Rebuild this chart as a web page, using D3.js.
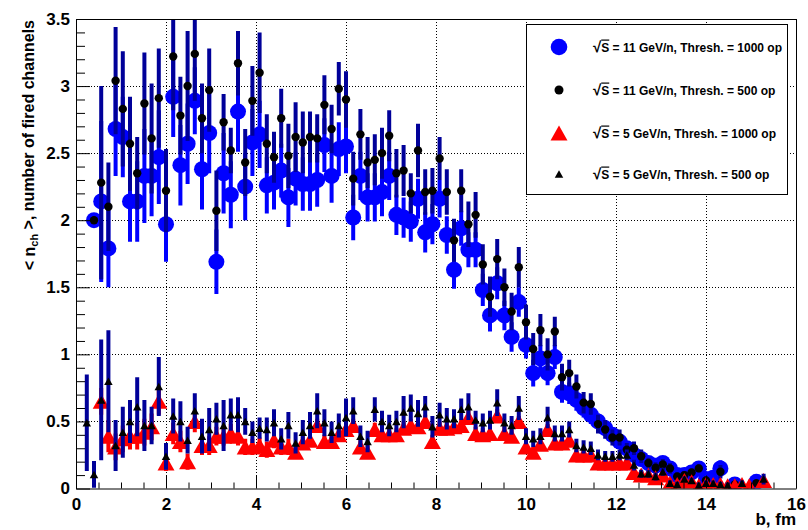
<!DOCTYPE html>
<html>
<head>
<meta charset="utf-8">
<script src="https://cdn.jsdelivr.net/npm/d3@7"></script>
<style>
  body { margin: 0; background: #fff; }
  svg { display: block; }
  text { font-family: "Liberation Sans", Arial, sans-serif; font-weight: bold; }
</style>
</head>
<body>
<svg id="chart" width="808" height="530"></svg>
<script>
// histogram bins of 0.16 fm, first listed bin is #1 (centre 0.24 fm)
const binWidth = 0.16
const firstBin = 1

// sqrt(S) = 11 GeV/n, threshold 1000 op (blue circles)
const s11t1000 = [
  null, 2.00, 2.14, 1.79, 2.68, 2.62, 2.14, 2.14, 2.33, 2.33,
  2.47, 1.97, 2.92, 2.41, 2.57, 2.89, 2.38, 2.65, 1.69, 2.35,
  2.19, 2.81, 2.25, 2.58, 2.64, 2.26, 2.28, 2.37, 2.17, 2.31,
  2.27, 2.27, 2.30, 2.56, 2.33, 2.53, 2.55, 2.02, 2.33, 2.17,
  2.17, 2.21, 2.33, 2.04, 2.02, 1.99, 2.16, 1.91, 1.97, 2.16,
  1.89, 1.63, 1.94, 1.78, 1.78, 1.48, 1.29, 1.53, 1.29, 1.13,
  1.39, 1.07, 0.86, 0.97, 0.86, 0.98, 0.72, 0.71, 0.66, 0.60,
  0.55, 0.50, 0.45, 0.40, 0.35, 0.30, 0.25, 0.22, 0.19, 0.17,
  0.19, 0.15, 0.10, 0.10, 0.12, 0.15, 0.07, 0.08, 0.15, null,
  0.03, null, null, 0.05, null
]
const s11t1000Err = [
  0, 0, 0.60, 0.29, 0.35, 0.30, 0.30, 0.30, 0.35, 0.30,
  0.35, 0.28, 0.30, 0.30, 0.30, 0.25, 0.30, 0.30, 0.24, 0.30,
  0.25, 0.30, 0.25, 0.25, 0.25, 0.21, 0.20, 0.20, 0.22, 0.20,
  0.20, 0.20, 0.20, 0.20, 0.20, 0.20, 0.20, 0.17, 0.18, 0.18,
  0.18, 0.18, 0.18, 0.15, 0.15, 0.15, 0.15, 0.15, 0.15, 0.14,
  0.14, 0.14, 0.13, 0.13, 0.13, 0.12, 0.12, 0.12, 0.11, 0.11,
  0.11, 0.10, 0.10, 0.10, 0.09, 0.09, 0.08, 0.08, 0.08, 0.07,
  0.07, 0.06, 0.06, 0.05, 0.05, 0.05, 0.05, 0.04, 0.04, 0.04,
  0.04, 0.04, 0.03, 0.03, 0.03, 0.03, 0.03, 0.03, 0.06, 0,
  0.02, 0, 0, 0.02, 0
]

// sqrt(S) = 11 GeV/n, threshold 500 op (small black circles)
const s11t500 = [
  null, 2.00, 2.28, 2.10, 3.04, 2.83, 2.57, 2.35, 2.87, 2.61,
  2.91, 2.22, 3.22, 2.78, 3.00, 3.24, 2.76, 2.97, 2.07, 2.73,
  2.52, 3.17, 2.43, 2.89, 3.10, 2.57, 2.47, 2.76, 2.48, 2.62,
  2.58, 2.62, 2.61, 2.86, 2.68, 2.98, 2.90, 2.31, 2.64, 2.43,
  2.45, 2.50, 2.63, 2.35, 2.37, 2.20, 2.52, 2.21, 2.22, 2.46,
  2.21, 1.85, 2.22, 1.97, 2.04, 1.67, 1.43, 1.71, 1.50, 1.32,
  1.65, 1.24, 1.04, 1.18, 1.00, 1.17, 0.83, 0.86, 0.76, 0.64,
  0.63, 0.48, 0.44, 0.38, 0.38, 0.29, 0.30, 0.24, 0.19, 0.155,
  0.18, 0.15, 0.09, 0.10, 0.12, 0.15, 0.06, null, 0.125, null,
  0.03, null, null, 0.04, null
]
const s11t500Err = [
  0, 0, 0.72, 0.33, 0.40, 0.43, 0.35, 0.27, 0.38, 0.41,
  0.37, 0.31, 0.40, 0.29, 0.41, 0.35, 0.26, 0.31, 0.30, 0.21,
  0.17, 0.24, 0.25, 0.26, 0.30, 0.22, 0.19, 0.22, 0.24, 0.26,
  0.23, 0.19, 0.18, 0.22, 0.18, 0.20, 0.21, 0.20, 0.19, 0.19,
  0.19, 0.19, 0.19, 0.18, 0.19, 0.15, 0.20, 0.17, 0.17, 0.16,
  0.17, 0.16, 0.16, 0.17, 0.17, 0.15, 0.15, 0.15, 0.14, 0.14,
  0.15, 0.13, 0.12, 0.12, 0.12, 0.11, 0.10, 0.10, 0.09, 0.08,
  0.08, 0.07, 0.07, 0.06, 0.06, 0.05, 0.05, 0.05, 0.04, 0.04,
  0.04, 0.04, 0.03, 0.03, 0.03, 0.03, 0.03, 0, 0.05, 0,
  0.02, 0, 0, 0.02, 0
]

// sqrt(S) = 5 GeV/n, threshold 1000 op (red triangles)
const s5t1000 = [
  null, null, 0.65, 0.39, 0.31, 0.37, 0.39, 0.39, 0.42, 0.46,
  0.65, 0.19, 0.41, 0.35, 0.20, 0.50, 0.32, 0.32, 0.39, 0.39,
  0.41, 0.39, 0.31, 0.31, 0.32, 0.29, 0.36, 0.31, 0.31, 0.27,
  0.34, 0.36, 0.47, 0.35, 0.35, 0.40, 0.44, 0.47, 0.31, 0.27,
  0.44, 0.40, 0.40, 0.40, 0.45, 0.47, 0.46, 0.50, 0.35, 0.45,
  0.45, 0.46, 0.47, 0.53, 0.41, 0.40, 0.41, 0.54, 0.41, 0.39,
  0.50, 0.31, 0.27, 0.33, 0.44, 0.34, 0.34, 0.36, 0.25, 0.25,
  0.25, 0.19, 0.19, 0.19, 0.19, 0.19, 0.12, 0.10, 0.10, 0.08,
  0.10, 0.04, 0.03, 0.06, 0.05, 0.02, 0.03, 0.03, 0.03, 0.02,
  0.02, 0.03, 0.02, null, 0.06
]
const s5t1000Err = [
  0, 0, 0.10, 0.12, 0.10, 0.10, 0.10, 0.10, 0.10, 0.10,
  0.10, 0.06, 0.08, 0.08, 0.06, 0.08, 0.07, 0.07, 0.07, 0.07,
  0.07, 0.07, 0.06, 0.06, 0.06, 0.06, 0.06, 0.06, 0.06, 0.05,
  0.05, 0.05, 0.05, 0.05, 0.05, 0.05, 0.05, 0.05, 0.05, 0.05,
  0.05, 0.05, 0.05, 0.05, 0.05, 0.05, 0.05, 0.05, 0.05, 0.05,
  0.05, 0.05, 0.05, 0.05, 0.05, 0.05, 0.05, 0.05, 0.05, 0.05,
  0.04, 0.04, 0.04, 0.04, 0.04, 0.04, 0.04, 0.04, 0.04, 0.04,
  0.04, 0.03, 0.03, 0.03, 0.03, 0.03, 0.03, 0.03, 0.03, 0.03,
  0.02, 0.02, 0.02, 0.02, 0.02, 0.02, 0.02, 0.02, 0.02, 0.02,
  0.02, 0.02, 0.02, 0, 0.02
]

// sqrt(S) = 5 GeV/n, threshold 500 op (small black triangles)
const s5t500 = [
  0.49, 0.105, 0.66, 0.80, 0.32, 0.42, 0.50, 0.61, 0.47, 0.47,
  0.76, 0.24, 0.54, 0.50, 0.36, 0.58, 0.39, 0.44, 0.52, 0.47,
  0.55, 0.55, 0.50, 0.42, 0.45, 0.44, 0.49, 0.37, 0.47, 0.34,
  0.42, 0.47, 0.58, 0.49, 0.42, 0.47, 0.53, 0.58, 0.39, 0.35,
  0.59, 0.50, 0.47, 0.50, 0.57, 0.60, 0.56, 0.61, 0.46, 0.55,
  0.52, 0.52, 0.59, 0.61, 0.51, 0.49, 0.51, 0.64, 0.49, 0.47,
  0.60, 0.39, 0.37, 0.39, 0.53, 0.41, 0.41, 0.44, 0.32, 0.31,
  0.30, 0.25, 0.24, 0.24, 0.25, 0.25, 0.175, 0.11, 0.11, 0.09,
  0.125, 0.04, 0.03, 0.07, 0.06, 0.025, 0.04, 0.04, 0.03, 0.025,
  null, 0.04, null, null, 0.07
]
const s5t500Err = [
  0.36, 0.10, 0.45, 0.38, 0.19, 0.19, 0.16, 0.22, 0.19, 0.14,
  0.22, 0.10, 0.13, 0.15, 0.10, 0.13, 0.13, 0.16, 0.12, 0.19,
  0.12, 0.13, 0.10, 0.08, 0.08, 0.09, 0.10, 0.08, 0.10, 0.08,
  0.09, 0.10, 0.13, 0.10, 0.08, 0.09, 0.14, 0.10, 0.08, 0.08,
  0.09, 0.08, 0.08, 0.08, 0.12, 0.10, 0.10, 0.08, 0.08, 0.09,
  0.08, 0.07, 0.08, 0.10, 0.07, 0.07, 0.07, 0.10, 0.07, 0.07,
  0.09, 0.06, 0.06, 0.06, 0.08, 0.06, 0.06, 0.06, 0.05, 0.05,
  0.05, 0.04, 0.04, 0.04, 0.04, 0.04, 0.04, 0.03, 0.03, 0.03,
  0.03, 0.02, 0.02, 0.02, 0.02, 0.02, 0.02, 0.02, 0.02, 0.02,
  0, 0.02, 0, 0, 0.04
]

const xTicks = [0, 2, 4, 6, 8, 10, 12, 14, 16]
const yTicks = [0, 0.5, 1, 1.5, 2, 2.5, 3, 3.5]
const legendLabels = [
  ["11", "1000"], ["11", "500"], ["5", "1000"], ["5", "500"]
]

const svg = d3.select("#chart")
const x = d3.scaleLinear().domain([0, 16]).range([76, 796])
const y = d3.scaleLinear().domain([0, 3.5]).range([488.5, 19])

const toPoints = (vals, errs) => vals
  .map((v, i) => ({ b: (firstBin + i + 0.5) * binWidth, v, e: errs[i] }))
  .filter(d => d.v !== null)

// grid
const grid = svg.append("g")
  .attr("stroke", "#000").attr("stroke-width", 1).attr("stroke-dasharray", "1,2")
grid.selectAll("line.gx").data(xTicks.slice(1, -1)).join("line")
  .attr("x1", d => Math.round(x(d)) + 0.5).attr("x2", d => Math.round(x(d)) + 0.5)
  .attr("y1", y(3.5)).attr("y2", y(0))
grid.selectAll("line.gy").data(yTicks.slice(1)).join("line")
  .attr("y1", d => Math.round(y(d)) + 0.5).attr("y2", d => Math.round(y(d)) + 0.5)
  .attr("x1", x(0)).attr("x2", x(16))

svg.append("clipPath").attr("id", "plotclip")
  .append("rect").attr("x", x(0)).attr("y", y(3.5))
  .attr("width", x(16) - x(0)).attr("height", y(0) - y(3.5))

const plot = svg.append("g").attr("clip-path", "url(#plotclip)")

const tri = (w, h) => `M0,${-h / 2}L${w / 2},${h / 2}L${-w / 2},${h / 2}Z`

const series = [
  { pts: toPoints(s11t1000, s11t1000Err), bar: "#0000ff", fill: "#0000ff", shape: "circle", r: 8 },
  { pts: toPoints(s11t500, s11t500Err), bar: "#000099", fill: "#000000", shape: "circle", r: 4.2 },
  { pts: toPoints(s5t1000, s5t1000Err), bar: "#ff0000", fill: "#ff0000", shape: "tri", w: 17, h: 15 },
  { pts: toPoints(s5t500, s5t500Err), bar: "#000099", fill: "#000000", shape: "tri", w: 8.5, h: 7.5 }
]

series.forEach(s => {
  const g = plot.append("g")
  g.selectAll("line").data(s.pts.filter(d => d.e > 0)).join("line")
    .attr("x1", d => x(d.b)).attr("x2", d => x(d.b))
    .attr("y1", d => y(d.v + d.e)).attr("y2", d => y(Math.max(0, d.v - d.e)))
    .attr("stroke", s.bar).attr("stroke-width", 4)
  if (s.shape === "circle") {
    g.selectAll("circle").data(s.pts).join("circle")
      .attr("cx", d => x(d.b)).attr("cy", d => y(d.v)).attr("r", s.r)
      .attr("fill", s.fill)
  } else {
    g.selectAll("path").data(s.pts).join("path")
      .attr("transform", d => `translate(${x(d.b)},${y(d.v)})`)
      .attr("d", tri(s.w, s.h)).attr("fill", s.fill)
  }
})

// legend
const leg = svg.append("g")
leg.append("rect").attr("x", 526.5).attr("y", 24.5).attr("width", 261).attr("height", 170)
  .attr("fill", "#fff").attr("stroke", "#000").attr("stroke-width", 1)
const rowsY = [47, 90, 133, 174]
series.forEach((s, i) => {
  if (s.shape === "circle") {
    leg.append("circle").attr("cx", 559).attr("cy", rowsY[i]).attr("r", s.r + 0.3).attr("fill", s.fill)
  } else {
    leg.append("path").attr("transform", `translate(559,${rowsY[i]})`)
      .attr("d", tri(s.w, s.h)).attr("fill", s.fill)
  }
  const t = leg.append("text").attr("x", 593).attr("y", rowsY[i] + 4.5)
    .style("font-size", "12px")
  t.append("tspan").style("font-size", "15px").text("√")
  t.append("tspan").style("text-decoration", "overline").text("S")
  t.append("tspan").text(` = ${legendLabels[i][0]} GeV/n, Thresh. = ${legendLabels[i][1]} op`)
})

// axes
const xAxis = svg.append("g").attr("transform", `translate(0,${y(0)})`)
  .call(d3.axisBottom(x).tickValues(xTicks).tickSize(-13).tickSizeOuter(0)
    .tickPadding(9).tickFormat(d => d))
xAxis.append("g").call(d3.axisBottom(x).tickValues(d3.range(0.5, 16, 0.5).filter(v => v % 2 !== 0))
  .tickSize(-6).tickFormat("")).select(".domain").remove()

const yAxis = svg.append("g").attr("transform", `translate(${x(0)},0)`)
  .call(d3.axisLeft(y).tickValues(yTicks).tickSize(-14).tickSizeOuter(0)
    .tickPadding(6).tickFormat(d => d))
yAxis.append("g").call(d3.axisLeft(y).tickValues(d3.range(0.1, 3.5, 0.1).filter(v => Math.abs(v * 2 - Math.round(v * 2)) > 1e-6))
  .tickSize(-9).tickFormat("")).select(".domain").remove()

svg.selectAll(".tick text").style("font-size", "17px").attr("fill", "#000")
  .style("font-family", "'Liberation Sans', Arial, sans-serif").style("font-weight", "bold")
svg.selectAll(".tick line, .domain").attr("stroke", "#000")

// frame top / right
svg.append("line").attr("x1", x(0)).attr("x2", x(16)).attr("y1", 19.5).attr("y2", 19.5).attr("stroke", "#000")
svg.append("line").attr("x1", 796.5).attr("x2", 796.5).attr("y1", y(3.5)).attr("y2", y(0)).attr("stroke", "#000")

// titles
svg.append("text").attr("x", 796).attr("y", 525).attr("text-anchor", "end")
  .style("font-size", "17px").text("b, fm")

const yt = svg.append("text").attr("transform", "translate(35,20) rotate(-90)")
  .attr("text-anchor", "end").style("font-size", "16px")
yt.append("tspan").text("< n")
yt.append("tspan").attr("dy", "0.3em").style("font-size", "11px").text("ch")
yt.append("tspan").attr("dy", "-0.3em").text(" >, number of fired channels")
</script>
</body>
</html>
